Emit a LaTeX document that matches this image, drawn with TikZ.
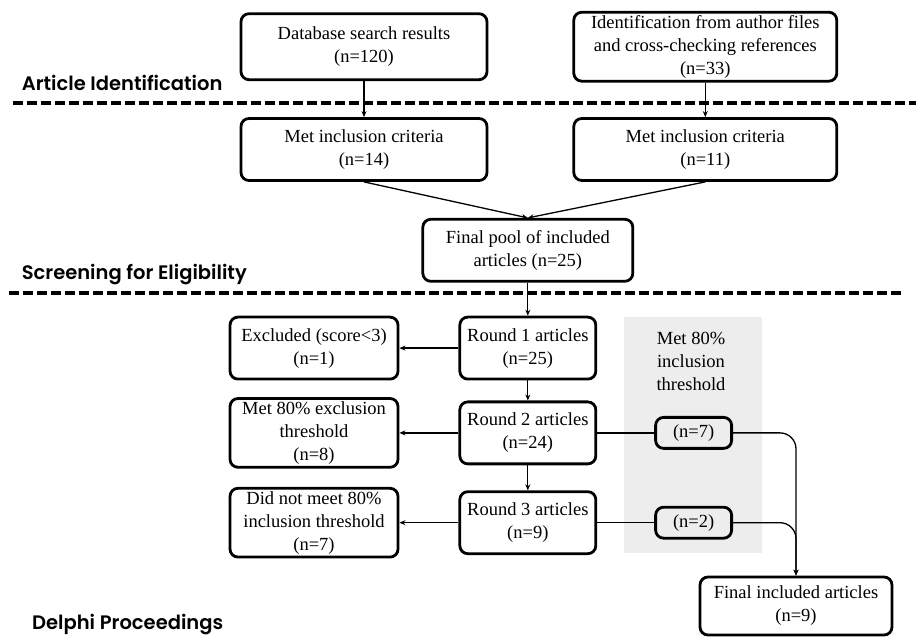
\documentclass[tikz,border=0pt]{standalone}
\usepackage{fontspec}
\setmainfont{Liberation Serif}
\newfontfamily\headfont{Poppins SemiBold}
\usepackage{tikz}
\usetikzlibrary{
  arrows.meta,
  positioning,
  calc
}

\begin{document}
\begin{tikzpicture}[
    x=1pt, y=1pt,
    node distance=36pt,
    every node/.style={font=\fontsize{18.5}{23}\selectfont},
    box/.style={
      draw,
      line width=2.8pt,
      rounded corners=8pt,
      align=center,
      inner xsep=4pt,
      inner ysep=3pt
    },
    countbox/.style={box, minimum width=76pt, minimum height=31pt, inner ysep=1pt},
    roundbox/.style={box, minimum width=136pt, minimum height=62pt},
    sidebox/.style={box, minimum width=168pt, minimum height=62pt},
    section/.style={font=\headfont\fontsize{19.5}{23}\selectfont, anchor=base west, inner sep=0pt},
    ar/.style={-{Stealth[length=6pt,width=5pt]}, line width=1.3pt},
    link/.style={line width=1.3pt},
    divider/.style={line width=4pt, dash pattern=on 9.5pt off 4.5pt}
  ]
    \useasboundingbox (0,0) rectangle (916,-637);

    % shaded band behind the inclusion counts
    \node[fill=black!7, minimum width=138pt, minimum height=236pt, inner sep=0pt] (band) at (693,-435) {};
    \node[align=center] (bandlabel) at (691,-361) {Met 80\%\\inclusion\\threshold};

    % section headings and dividers
    \node[section] (artid) at (21.6,-90.7) {Article Identification};
    \node[section] (screen) at (21.6,-279) {Screening for Eligibility};
    \node[section] (delphi) at (32,-629.5) {Delphi Proceedings};
    \draw[divider] (13,-103) -- (916,-103);
    \draw[divider] (9,-293) -- (903,-293);

    % identification: two sources
    \node[box, minimum width=246pt, minimum height=66pt] (db) at (364,-46.7)
      {Database search results\\(n=120)};
    \node[box, minimum width=263pt, minimum height=68pt, right=84pt of db] (author)
      {Identification from author files\\and cross-checking references\\(n=33)};

    % screening
    \node[box, minimum width=246pt, minimum height=62pt, below=36pt of db] (incdb)
      {Met inclusion criteria\\(n=14)};
    \node[box, minimum width=263pt, minimum height=62pt, below=34.5pt of author] (incauth)
      {Met inclusion criteria\\(n=11)};
    \coordinate (merge) at ($(incdb.south)!0.48!(incauth.south)$);
    \node[box, minimum width=210pt, minimum height=62pt, below=36pt of merge] (pool)
      {Final pool of included\\articles (n=25)};

    % delphi rounds
    \node[roundbox, below=33pt of pool] (round1) {Round 1 articles\\(n=25)};
    \node[roundbox, below=20pt of round1] (round2) {Round 2 articles\\(n=24)};
    \node[roundbox, below=25pt of round2] (round3) {Round 3 articles\\(n=9)};

    \node[sidebox, left=59pt of round1] (excluded) {Excluded (score<3)\\(n=1)};
    \node[sidebox, left=59pt of round2] (exclusion) {Met 80\% exclusion\\threshold\\(n=8)};
    \node[sidebox, left=59pt of round3] (notmet) {Did not meet 80\%\\inclusion threshold\\(n=7)};

    \node[countbox, right=57pt of round2] (incl2) {(n=7)};
    \node[countbox, right=57pt of round3] (incl3) {(n=2)};

    \node[box, minimum width=192pt, minimum height=58pt] (final) at (796,-606)
      {Final included articles\\(n=9)};

    % arrows
    \draw[ar] (db) -- (incdb);
    \draw[ar] (author) -- (incauth);
    \draw[ar] (incdb.south) -- (pool.north);
    \draw[ar] (incauth.south) -- (pool.north);
    \draw[ar] (pool) -- (round1);
    \draw[ar] (round1) -- (round2);
    \draw[ar] (round2) -- (round3);
    \draw[ar] (round1) -- (excluded);
    \draw[ar] (round2) -- (exclusion);
    \draw[ar] (round3) -- (notmet);
    \draw[link] (round2) -- (incl2);
    \draw[link] (round3) -- (incl3);
    \draw[ar, rounded corners=16pt] (incl2.east) -| (final.north);
    \draw[ar, rounded corners=16pt] (incl3.east) -| (final.north);

  \end{tikzpicture}
\end{document}
